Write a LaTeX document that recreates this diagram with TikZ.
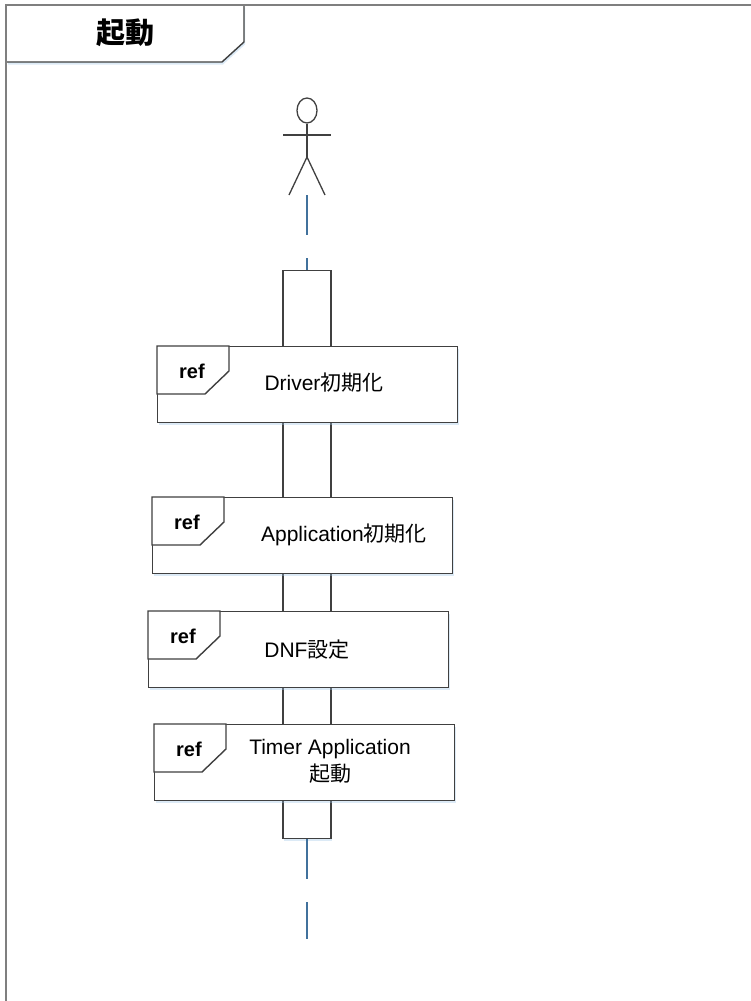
\documentclass[tikz,border=0pt]{standalone}
\usepackage{fontspec}
\setmainfont{Liberation Sans}
\newfontfamily\jp{Noto Sans CJK JP}
\usetikzlibrary{shadows,calc,shapes.geometric}
\definecolor{framegray}{HTML}{7F7F7F}
\definecolor{boxgray}{HTML}{404040}
\definecolor{lifeblue}{HTML}{41719C}
\definecolor{shadowblue}{HTML}{9DC3E6}
\tikzset{
  refframe/.style={draw=boxgray, line width=1.4pt, fill=white, rectangle, inner sep=0pt,
    minimum width=300pt, minimum height=76pt, anchor=north west,
    drop shadow={shadow xshift=1pt, shadow yshift=-2.5pt, fill=shadowblue, opacity=0.35}},
  reftab/.style={draw=boxgray, line width=1.4pt, fill=white},
  reftag/.style={font=\fontsize{20}{24}\selectfont\bfseries, inner sep=0pt},
  reflabel/.style={font=\fontsize{21}{27}\selectfont, align=center, inner sep=0pt},
  lifeline/.style={draw=lifeblue, line width=2pt, dash pattern=on 40pt off 23pt},
  actorline/.style={draw=boxgray, line width=1.3pt},
  actbox/.style={draw=boxgray, line width=1.4pt, fill=white, rectangle, inner sep=0pt,
    minimum width=48pt, minimum height=568pt, anchor=north,
    drop shadow={shadow xshift=1pt, shadow yshift=-2.5pt, fill=shadowblue, opacity=0.35}},
}
\newcommand\myrefbox[3]{% name, left, top
  \node[refframe] (#1) at (#2,#3) {};
  \draw[reftab] (#1.north west) -- ++(72,0) -- ++(0,25) -- ++(-24,23) -- ++(-48,0) -- cycle;
  \node[reftag] (#1tag) at ($(#1.north west)+(35,25)$) {ref};
}
\begin{document}
\begin{tikzpicture}[x=1pt,y=-1pt]
\useasboundingbox[fill=white] (0,0) rectangle (751,1001);
% outer frame
\draw[framegray, line width=2pt] (6,1001) -- (6,5) -- (751,5);
% title tab
\draw[draw=boxgray, line width=1.4pt, fill=white,
  drop shadow={shadow xshift=1pt, shadow yshift=-2.5pt, fill=shadowblue, opacity=0.35}]
  (7,5) -- (244,5) -- (244,42) -- (222,62) -- (7,62);
\draw[framegray, line width=2pt] (6,4) -- (6,64);
\draw[framegray, line width=2pt] (6,5) -- (245,5);
\node[font=\fontsize{29}{32}\selectfont\jp\bfseries, inner sep=0pt] (title) at (125,33) {起動};
% actor
\node[draw=boxgray, line width=1.3pt, ellipse, minimum width=20pt, minimum height=25pt, inner sep=0pt] (head) at (307,110.5) {};
\coordinate (hip) at (307,157);
\coordinate (feet) at (307,195);
\draw[actorline] (head.south) -- (hip);
\draw[actorline] (283,135) -- (331,135);
\draw[actorline] (289,195) -- (hip) -- (325,195);
% activation
\node[actbox] (act) at (307,270) {};
\coordinate (lifeend) at (307,939);
\draw[lifeline] (feet) -- (act.north);
\draw[lifeline] (act.south) -- (lifeend);
% ref boxes
\myrefbox{drv}{157}{346}
\node[reflabel] (drvlab) at (324,383) {Driver{\jp 初期化}};
\myrefbox{app}{152}{497}
\node[reflabel] (applab) at (344,535) {Application{\jp 初期化}};
\myrefbox{dnf}{148}{611}
\node[reflabel] (dnflab) at (307,650) {DNF{\jp 設定}};
\myrefbox{tmr}{154}{724}
\node[reflabel] (tmrlab) at (330,761) {Timer Application\\{\jp 起動}};
\end{tikzpicture}
\end{document}
